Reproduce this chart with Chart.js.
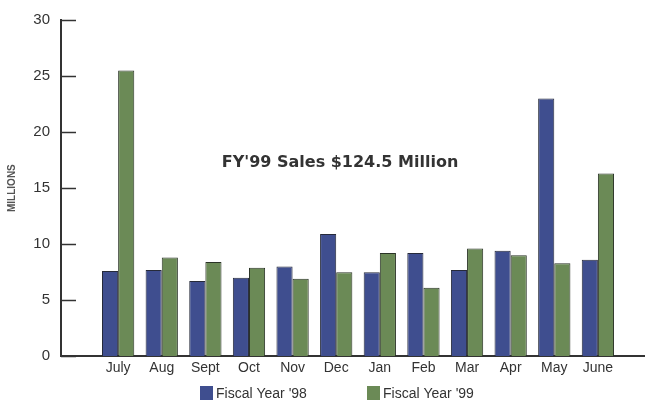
<!DOCTYPE html>
<html>
<head>
<meta charset="utf-8">
<script src="https://cdn.jsdelivr.net/npm/chart.js@4/dist/chart.umd.min.js"></script>
<style>
  html, body { margin: 0; padding: 0; background: #fff; }
  #wrap { width: 645px; height: 404px; }
</style>
</head>
<body>
<div id="wrap"><canvas id="salesChart" width="645" height="404"></canvas></div>
<script>
// Monthly sales, millions
const months = ['July', 'Aug', 'Sept', 'Oct', 'Nov', 'Dec', 'Jan', 'Feb', 'Mar', 'Apr', 'May', 'June'];
const fy98 = [7.6, 7.7, 6.7, 7.0, 8.0, 10.9, 7.5, 9.2, 7.7, 9.4, 23.0, 8.6];
const fy99 = [25.5, 8.8, 8.4, 7.9, 6.9, 7.5, 9.2, 6.1, 9.6, 9.0, 8.3, 16.3];
const yTicks = [0, 5, 10, 15, 20, 25, 30];
const seriesNames = ["Fiscal Year '98", "Fiscal Year '99"];
const chartNote = "FY'99 Sales $124.5 Million";

const blue = '#3f4e8f';
const green = '#6b8a56';
const textCol = '#333';
const font = "'Liberation Sans', Arial, sans-serif";

function toPoints(arr){
    return arr.map(function(v, i){ return {x: i, y: v}; });
}

// inward tick marks, note text and legend
const extras = {
    id: 'extras',
    afterDraw(chart){
        const ctx = chart.ctx;
        const y = chart.scales.y;
        const left = chart.chartArea.left;
        ctx.save();
        ctx.strokeStyle = '#333';
        ctx.lineWidth = 1.5;
        yTicks.forEach(function(t){
            const py = Math.round(y.getPixelForValue(t)) + 0.5;
            ctx.beginPath();
            ctx.moveTo(left, py);
            ctx.lineTo(left + 15, py);
            ctx.stroke();
        });

        ctx.fillStyle = textCol;
        ctx.font = "bold 16px 'DejaVu Sans', sans-serif";
        ctx.textAlign = 'center';
        ctx.textBaseline = 'middle';
        ctx.fillText(chartNote, 340, 163);

        // legend
        ctx.font = '14px ' + font;
        ctx.textAlign = 'left';
        const xs = [200, 367];
        chart.data.datasets.forEach(function(ds, i){
            ctx.fillStyle = ds.backgroundColor;
            ctx.fillRect(xs[i], 386, 13, 14);
            ctx.fillStyle = textCol;
            ctx.fillText(ds.label, xs[i] + 16, 394);
        });
        ctx.restore();
    }
};

const ctx = document.getElementById('salesChart').getContext('2d');
const salesChart = new Chart(ctx, {
    type: 'bar',
    data: {
        datasets: [
            {
                label: seriesNames[0],
                data: toPoints(fy98),
                backgroundColor: blue,
                borderColor: '#262a3a',
                borderWidth: 1
            },
            {
                label: seriesNames[1],
                data: toPoints(fy99),
                backgroundColor: green,
                borderColor: '#2a3326',
                borderWidth: 1
            }
        ]
    },
    options: {
        responsive: false,
        animation: false,
        categoryPercentage: 0.74,
        barPercentage: 1.0,
        layout: { padding: { top: 10, right: 0, bottom: 23, left: 0 } },
        plugins: {
            legend: { display: false },
            tooltip: { enabled: false }
        },
        scales: {
            x: {
                type: 'linear',
                offset: false,
                min: -1.31,
                max: 12.08,
                grid: { display: false, drawTicks: false },
                border: { display: true, color: '#333', width: 2 },
                afterBuildTicks: function(s){
                    s.ticks = months.map(function(m, i){ return {value: i}; });
                },
                ticks: {
                    autoSkip: false,
                    maxRotation: 0,
                    padding: 4,
                    color: textCol,
                    font: { family: font, size: 14 },
                    callback: function(v){ return months[v]; }
                }
            },
            y: {
                min: 0,
                max: 30,
                afterBuildTicks: function(s){
                    s.ticks = yTicks.map(function(v){ return {value: v}; });
                },
                afterFit: function(s){ s.width = 61; },
                grid: { display: false, drawTicks: false },
                border: { display: true, color: '#333', width: 2 },
                title: {
                    display: true,
                    text: 'MILLIONS',
                    color: '#555',
                    font: { family: font, size: 10, weight: 'bold' },
                    padding: { top: 6, bottom: 0 }
                },
                ticks: {
                    padding: 11,
                    color: textCol,
                    font: { family: font, size: 15 }
                }
            }
        }
    },
    plugins: [extras]
});
</script>
</body>
</html>
